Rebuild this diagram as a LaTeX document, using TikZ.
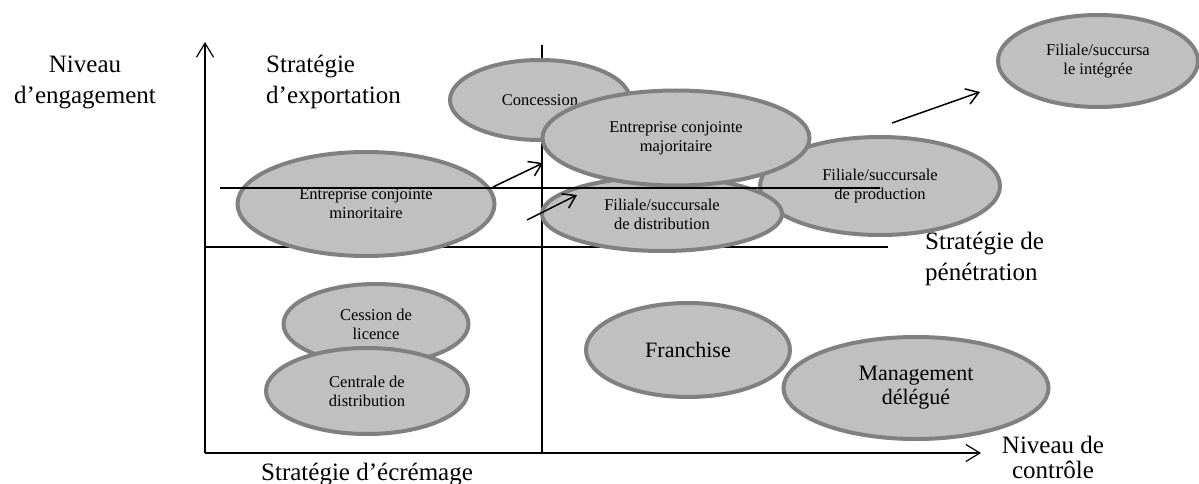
\documentclass[tikz,border=0pt]{standalone}
\usepackage{fontspec}
\setmainfont{Liberation Serif}
\usetikzlibrary{shapes.geometric,arrows.meta}
\definecolor{efill}{RGB}{192,192,192}
\definecolor{edraw}{RGB}{128,128,128}
\begin{document}
\begin{tikzpicture}[x=1pt,y=-1pt,
  oval/.style={ellipse, draw=edraw, fill=efill, line width=4pt, inner sep=0pt, align=center,
    font=\fontsize{16.5}{19}\selectfont},
  bigoval/.style={oval, font=\fontsize{22}{24}\selectfont},
  axisline/.style={line width=1.2pt, -{Straight Barb[length=14pt,width=17pt,line width=1.2pt]}},
  ruleline/.style={line width=1.2pt},
  movearrow/.style={line width=1.5pt, -{Straight Barb[length=12pt,width=16pt,line width=1.5pt]}},
  lab/.style={inner sep=0pt, font=\fontsize{25}{31}\selectfont}]
\useasboundingbox (0,0) rectangle (1199,484);

% axes and dividing lines
\coordinate (O) at (205,453);
\coordinate (Ytop) at (205,42);
\coordinate (Xend) at (981,453);
\coordinate (Vtop) at (542,45);
\coordinate (Vbot) at (542,453);
\coordinate (Hl) at (205,247);
\coordinate (Hr) at (888,247);
\coordinate (Ml) at (220,188);
\coordinate (Mr) at (880,188);

\draw[ruleline] (Vtop) -- (Vbot);
\draw[ruleline] (Hl) -- (Hr);
\draw[axisline] (O) -- (Ytop);
\draw[axisline] (O) -- (Xend);

% ellipses
\node[oval, minimum width=180pt, minimum height=80pt] (conc) at (540,100) {Concession};
\node[oval, minimum width=240pt, minimum height=98pt] (prod) at (880,186) {Filiale/succursale\\de production};
\node[oval, minimum width=240pt, minimum height=74pt] (dist) at (662,214) {Filiale/succursale\\de distribution};
\node[oval, minimum width=267pt, minimum height=95pt] (maj) at (676,138) {Entreprise conjointe\\majoritaire};
\node[oval, minimum width=257pt, minimum height=104pt] (min) at (366,204) {Entreprise conjointe\\minoritaire};
\node[oval, minimum width=185pt, minimum height=80pt] (cess) at (376,324) {Cession de\\licence};
\node[oval, minimum width=202pt, minimum height=86pt] (cent) at (367,391) {Centrale de\\distribution};
\node[bigoval, minimum width=204pt, minimum height=94pt] (fran) at (688,350) {Franchise};
\node[bigoval, minimum width=265pt, minimum height=102pt] (mgmt) at (916,388) {Management\\délégué};
\node[oval, minimum width=200pt, minimum height=92pt] (integ) at (1098,61) {Filiale/succursa\\le intégrée};

\draw[ruleline] (Ml) -- (Mr);

% progression arrows
\coordinate (a1s) at (493,187);
\coordinate (a1e) at (543,163);
\coordinate (a2s) at (527,220);
\coordinate (a2e) at (577,195);
\coordinate (a3s) at (892,123);
\coordinate (a3e) at (980,92);
\draw[movearrow] (a1s) -- (a1e);
\draw[movearrow] (a2s) -- (a2e);
\draw[movearrow] (a3s) -- (a3e);

% labels
\node[lab, align=center] (yl) at (85,82) {Niveau\\d’engagement};
\node[lab, align=left, anchor=west] (exp) at (266,82) {Stratégie\\d’exportation};
\node[lab, align=left, anchor=west] (pen) at (925,259) {Stratégie de\\pénétration};
\node[lab, align=center, font=\fontsize{25}{25}\selectfont] (xl) at (1053,457) {Niveau de\\contrôle};
\node[lab, anchor=base west] (ecr) at (261,480) {Stratégie d’écrémage};
\end{tikzpicture}
\end{document}
